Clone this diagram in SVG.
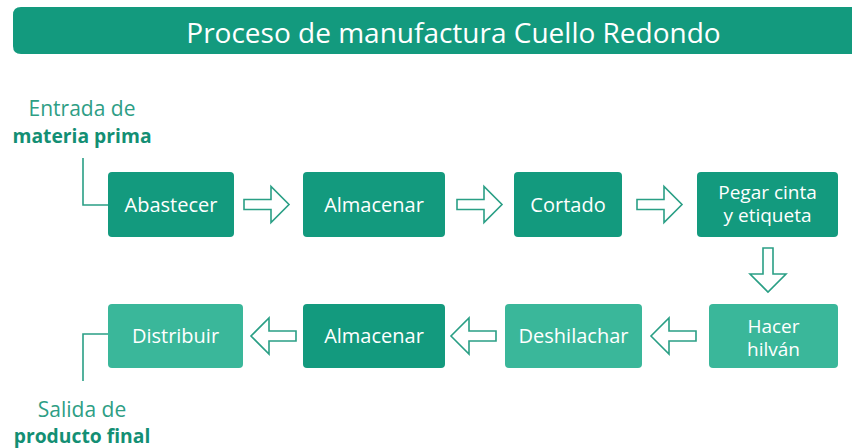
<svg xmlns="http://www.w3.org/2000/svg" width="852" height="448" viewBox="0 0 852 448">
  <style>
    .dark { fill: #139a7e; }
    .light { fill: #3ab79a; }
    .lbl { font-family: "Open Sans", "Noto Sans", sans-serif; font-size: 20px; fill: #ffffff; text-anchor: middle; }
    .lbl2 { font-size: 19px; }
    .arrow { fill: #ffffff; stroke: #2a9f85; stroke-width: 1.6; stroke-linejoin: miter; }
    .conn { fill: none; stroke: #2a9f85; stroke-width: 1.6; }
    .side { font-family: "Open Sans", "Noto Sans", sans-serif; text-anchor: middle; }
    .sreg { fill: #2e9e85; font-size: 21px; }
    .sbold { fill: #138f74; font-weight: bold; font-size: 19.3px; }
  </style>
  <rect width="852" height="448" fill="#ffffff"/>

  <g id="title">
    <path d="M21 7 H852 V54 H21 Q13 54 13 46 V15 Q13 7 21 7 Z" fill="#139a7e"/>
    <text x="453.5" y="43" font-family="'Open Sans', 'Noto Sans', sans-serif" font-size="28" fill="#ffffff" text-anchor="middle">Proceso de manufactura Cuello Redondo</text>
  </g>

  <g id="input-label">
    <text class="side sreg" x="82" y="116">Entrada de</text>
    <text class="side sbold" x="82" y="143">materia prima</text>
  </g>
  <g id="output-label">
    <text class="side sreg" x="82" y="417">Salida de</text>
    <text class="side sbold" x="82" y="443">producto final</text>
  </g>

  <g id="connectors">
    <path class="conn" d="M83 158 V205 H108"/>
    <path class="conn" d="M108 334 H83 V381"/>
    <path class="arrow" d="M244 199.5 H271 V186.5 L289 204.5 L271 222.5 V209.5 H244 Z"/>
    <path class="arrow" d="M457 199.5 H484 V186.5 L502 204.5 L484 222.5 V209.5 H457 Z"/>
    <path class="arrow" d="M637 199.5 H664 V186.5 L682 204.5 L664 222.5 V209.5 H637 Z"/>
    <path class="arrow" d="M763 248 V274 H750 L768 292 L786 274 H773 V248 Z"/>
    <path class="arrow" d="M696 331 H669 V318 L651 336 L669 354 V341 H696 Z"/>
    <path class="arrow" d="M496 331 H469 V318 L451 336 L469 354 V341 H496 Z"/>
    <path class="arrow" d="M296 331 H269 V318 L251 336 L269 354 V341 H296 Z"/>
  </g>

  <g id="node-abastecer">
    <rect class="dark" x="108" y="172" width="126" height="65" rx="4"/>
    <text class="lbl" x="171" y="211.5">Abastecer</text>
  </g>
  <g id="node-almacenar1">
    <rect class="dark" x="303" y="172" width="142" height="65" rx="4"/>
    <text class="lbl" x="374" y="211.5">Almacenar</text>
  </g>
  <g id="node-cortado">
    <rect class="dark" x="514" y="172" width="108" height="65" rx="4"/>
    <text class="lbl" x="568" y="211.5">Cortado</text>
  </g>
  <g id="node-pegar">
    <rect class="dark" x="697" y="172" width="141" height="65" rx="4"/>
    <text class="lbl lbl2" x="767.5" y="199">Pegar cinta</text>
    <text class="lbl lbl2" x="767.5" y="222">y etiqueta</text>
  </g>
  <g id="node-hacer">
    <rect class="light" x="709" y="304" width="129" height="64" rx="4"/>
    <text class="lbl lbl2" x="773.5" y="333">Hacer</text>
    <text class="lbl lbl2" x="773.5" y="356">hilván</text>
  </g>
  <g id="node-deshilachar">
    <rect class="light" x="505" y="304" width="137" height="64" rx="4"/>
    <text class="lbl" x="573.5" y="343">Deshilachar</text>
  </g>
  <g id="node-almacenar2">
    <rect class="dark" x="303" y="304" width="142" height="64" rx="4"/>
    <text class="lbl" x="374" y="343">Almacenar</text>
  </g>
  <g id="node-distribuir">
    <rect class="light" x="108" y="304" width="135" height="64" rx="4"/>
    <text class="lbl" x="175.5" y="343">Distribuir</text>
  </g>
</svg>
